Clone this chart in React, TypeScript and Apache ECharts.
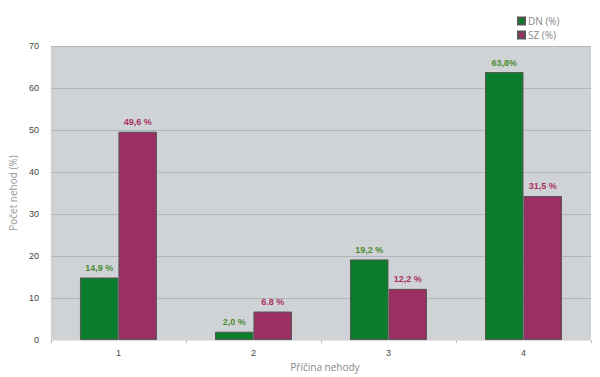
import React, { useEffect, useRef } from "react";
import * as echarts from "echarts";

const categories = ["1", "2", "3", "4"];
const dnValues = [14.9, 2.0, 19.2, 63.8];
const szValues = [49.6, 6.8, 12.2, 34.3];
const dnLabels = ["14,9 %", "2,0 %", "19,2 %", "63,8%"];
const szLabels = ["49,6 %", "6.8 %", "12,2 %", "31,5 %"];
const seriesNames = ["DN (%)", "SZ (%)"];

export default function App() {
  const ref = useRef<HTMLDivElement>(null);
  useEffect(() => {
    const chart = echarts.init(ref.current!, null, { renderer: "svg" });
    chart.setOption({
      animation: false,
      backgroundColor: "#ffffff",
      legend: {
        orient: "vertical",
        left: 512,
        top: 11,
        itemWidth: 7,
        itemHeight: 7,
        itemGap: 4,
        icon: "rect",
        textStyle: { color: "#888", fontFamily: "Open Sans", fontSize: 10, lineHeight: 10, padding: [0, 0, 0, -2] },
        data: seriesNames,
      },
      grid: {
        left: 46,
        right: 9,
        top: 46,
        bottom: 30,
        show: true,
        backgroundColor: "#d0d3d6",
        borderWidth: 0,
      },
      xAxis: {
        type: "category",
        data: categories,
        name: "Příčina nehody",
        nameLocation: "middle",
        nameGap: 11,
        nameTextStyle: { color: "#888", fontFamily: "Open Sans", fontSize: 10, padding: [0, 0, 0, 8] },
        axisLine: { show: true, lineStyle: { color: "#e8e8e8" } },
        axisTick: { show: true, length: 3, lineStyle: { color: "#bbb" } },
        axisLabel: { color: "#444", fontFamily: "Liberation Sans", fontSize: 9, margin: 8 },
      },
      yAxis: {
        type: "value",
        min: 0,
        max: 70,
        interval: 10,
        name: "Počet nehod (%)",
        nameLocation: "middle",
        nameGap: 25,
        nameTextStyle: { color: "#999", fontFamily: "Open Sans", fontSize: 10 },
        axisLine: { show: false },
        axisTick: { show: false },
        axisLabel: { color: "#444", fontFamily: "Liberation Sans", fontSize: 9, margin: 12 },
        splitLine: { lineStyle: { color: "#b3b6b9", width: 1 } },
      },
      series: [
        {
          name: seriesNames[0],
          type: "bar",
          data: dnValues,
          barGap: "0%",
          barCategoryGap: "43%",
          itemStyle: { color: "#0a7d2a", borderColor: "#555", borderWidth: 1 },
          label: {
            show: true,
            position: "top",
            distance: 5,
            color: "#4a8c33",
            fontWeight: "bold",
            fontFamily: "Liberation Sans",
            fontSize: 9,
            formatter: (p: any) => dnLabels[p.dataIndex],
          },
        },
        {
          name: seriesNames[1],
          type: "bar",
          data: szValues,
          itemStyle: { color: "#9b2f63", borderColor: "#555", borderWidth: 1 },
          label: {
            show: true,
            position: "top",
            distance: 5,
            color: "#a8325f",
            fontWeight: "bold",
            fontFamily: "Liberation Sans",
            fontSize: 9,
            formatter: (p: any) => szLabels[p.dataIndex],
          },
        },
      ],
    });
    return () => chart.dispose();
  }, []);
  return <div ref={ref} style={{ width: 600, height: 377, position: "absolute", left: 0, top: 0 }} />;
}
